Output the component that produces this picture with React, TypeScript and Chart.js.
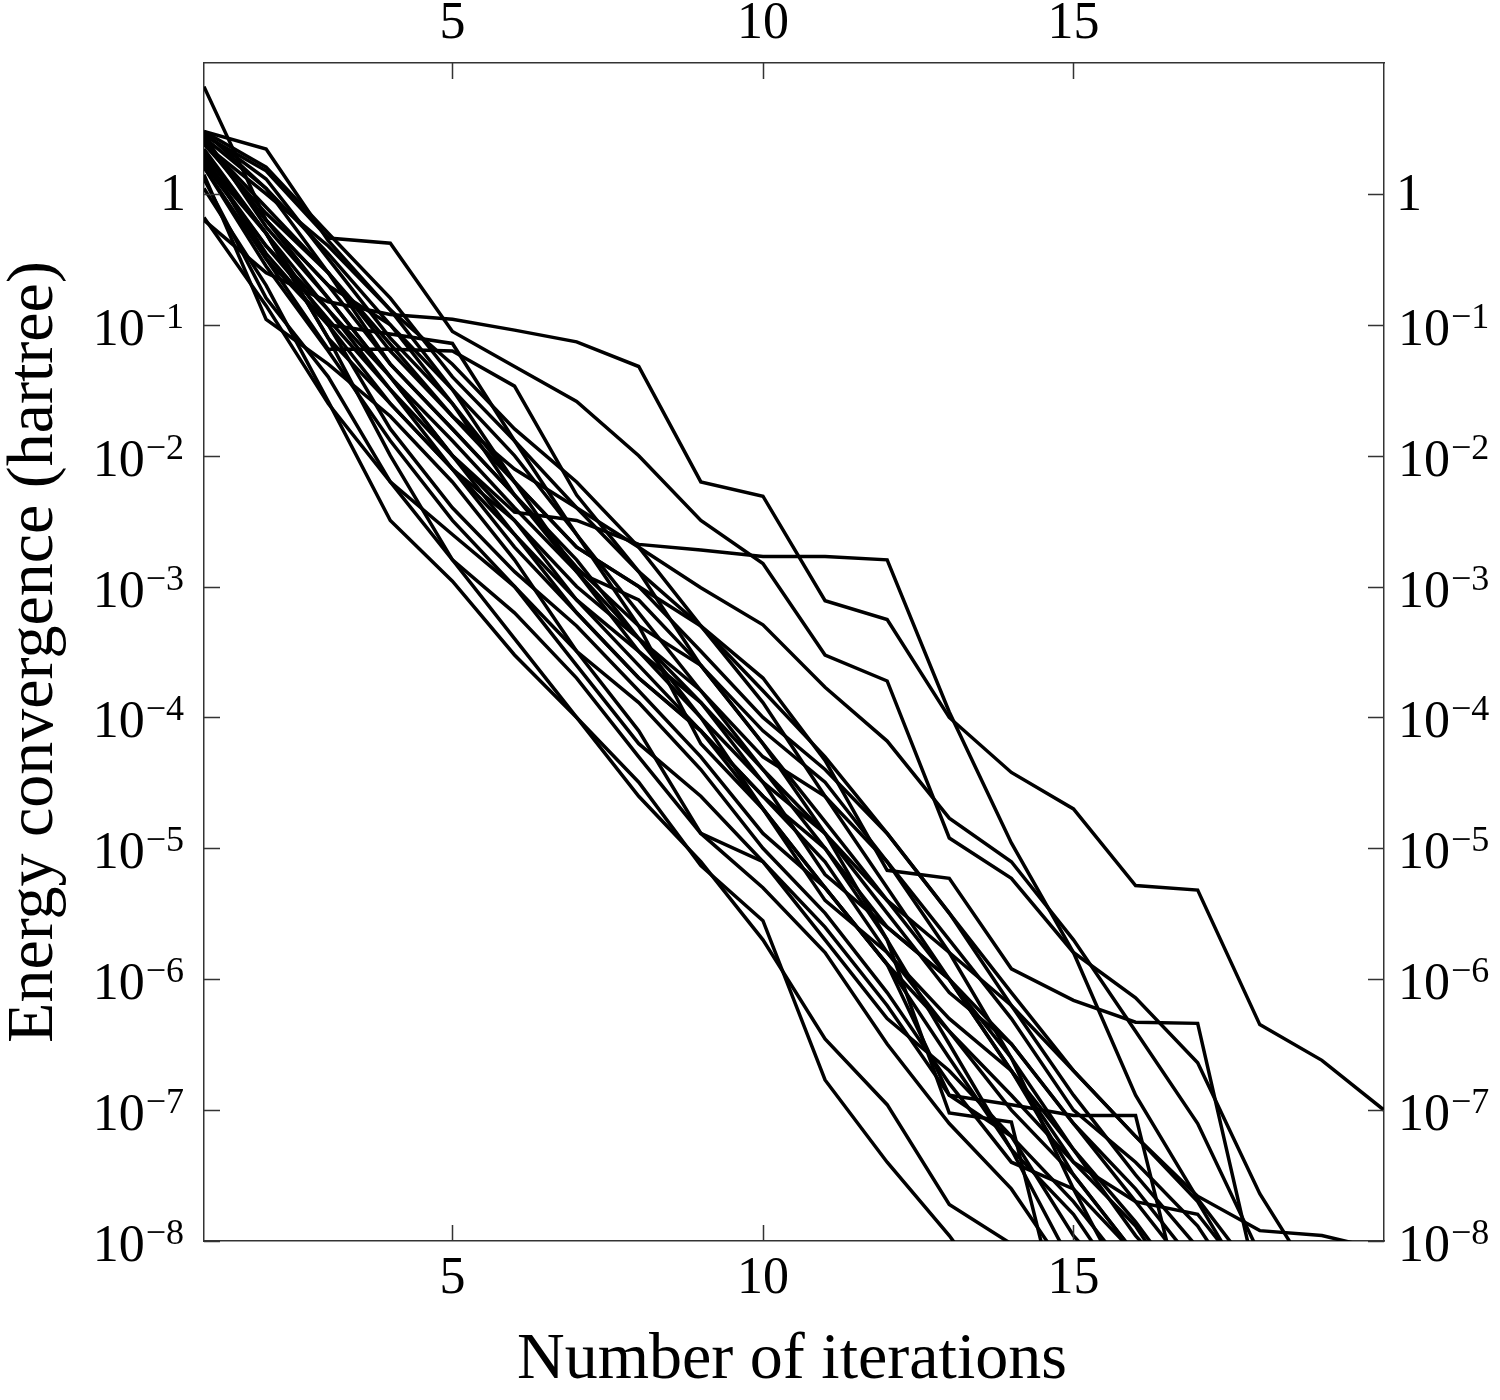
import { useEffect, useRef } from 'react'
import { Chart, registerables } from 'chart.js'

Chart.register(...registerables)

// iteration numbers (x) shared by all runs
const iterations = [1, 2, 3, 4, 5, 6, 7, 8, 9, 10, 11, 12, 13, 14, 15, 16, 17, 18, 19, 20]

// energy convergence (hartree) per run, one value per iteration
const run01 = [0.63, 0.25, 0.15, 0.12, 0.11, 9.1e-2, 7.4e-2, 4.8e-2, 6.3e-3, 4.9e-3, 7.8e-4, 5.6e-4, 1.0e-4, 3.8e-5, 2.0e-5, 5.2e-6, 4.8e-6, 4.5e-7, 2.4e-7, 1.0e-7]
const run02 = [2.0, 0.5, 0.13, 3.2e-2, 1.0e-2, 3.7e-3, 3.2e-3, 2.1e-3, 1.9e-3, 1.7e-3, 1.7e-3, 1.6e-3, 1.1e-4, 1.1e-5, 1.6e-6, 7.2e-7, 2.3e-7, 2.3e-8, 4.0e-9]
const run03 = [2.8, 1.5, 0.46, 0.42, 8.9e-2, 4.8e-2, 2.6e-2, 1.0e-2, 3.2e-3, 1.5e-3, 3.0e-4, 1.9e-4, 1.2e-5, 5.9e-6, 1.6e-6, 1.3e-7, 2.1e-8, 5.0e-9]
const run04 = [2.5, 0.79, 0.25, 6.3e-2, 2.0e-2, 7.9e-3, 4.0e-3, 2.0e-3, 9.8e-4, 5.1e-4, 1.7e-4, 6.6e-5, 1.7e-5, 7.9e-6, 2.0e-6, 4.0e-7, 7.9e-8, 7.9e-9]
const run05 = [3.0, 1.1, 0.35, 0.1, 2.5e-2, 6.3e-3, 2.0e-3, 1.0e-3, 5.0e-4, 2.0e-4, 4.7e-5, 6.8e-6, 5.9e-6, 1.2e-6, 6.9e-7, 4.7e-7, 4.6e-7, 3.9e-9]
const run06 = [1.8, 0.4, 0.13, 4.0e-2, 1.0e-2, 2.5e-3, 7.9e-4, 3.2e-4, 1.3e-4, 3.2e-5, 1.3e-5, 4.0e-6, 1.6e-6, 6.3e-7, 2.0e-7, 6.3e-8, 2.2e-8, 1.2e-8, 1.1e-8, 8.5e-9]
const run07 = [2.2, 0.5, 0.1, 8.5e-2, 7.2e-2, 1.3e-2, 2.5e-3, 5.0e-4, 6.3e-5, 2.0e-5, 5.0e-6, 1.3e-6, 1.3e-7, 1.1e-7, 9.1e-8, 9.1e-8, 1.1e-9]
const run08 = [1.1, 0.2, 2.6e-2, 3.2e-3, 1.1e-3, 3.0e-4, 1.0e-4, 3.2e-5, 7.4e-6, 2.8e-6, 1.7e-7, 4.0e-8, 1.1e-8, 2.5e-9]
const run09 = [2.1, 0.5, 7.9e-2, 1.0e-2, 1.6e-3, 4.0e-4, 1.0e-4, 2.5e-5, 7.9e-6, 2.0e-6, 3.5e-7, 1.1e-7, 1.9e-8, 9.5e-9, 2.5e-9]
const run10 = [6.6, 0.63, 0.16, 4.0e-2, 1.0e-2, 3.2e-3, 1.0e-3, 4.0e-4, 1.3e-4, 4.0e-5, 1.0e-5, 2.0e-6, 3.2e-7, 5.0e-8, 6.3e-9]
const run11 = [3.0, 2.2, 0.44, 0.13, 3.2e-2, 6.3e-3, 1.3e-3, 7.9e-4, 2.5e-4, 7.9e-5, 3.2e-5, 7.9e-6, 1.6e-6, 2.5e-7, 2.5e-8, 3.2e-9]
const run12 = [1.6, 0.32, 6.5e-2, 6.5e-2, 6.3e-2, 3.4e-2, 5.0e-3, 1.3e-3, 2.5e-4, 6.3e-5, 1.3e-5, 2.0e-6, 9.5e-8, 8.1e-8, 1.0e-9]
const run13 = [2.6, 0.63, 0.2, 5.0e-2, 1.6e-2, 5.0e-3, 1.3e-3, 3.2e-4, 1.0e-4, 3.2e-5, 6.3e-6, 2.5e-6, 1.0e-6, 2.0e-7, 4.0e-8, 1.3e-8, 2.5e-9]
const run14 = [2.0, 0.32, 0.1, 1.6e-2, 4.0e-3, 1.3e-3, 5.0e-4, 1.6e-4, 5.0e-5, 1.3e-5, 5.0e-6, 1.3e-6, 2.5e-7, 5.0e-8, 1.6e-8, 3.2e-9]
const run15 = [1.4, 0.11, 5.0e-2, 2.0e-2, 6.3e-3, 1.6e-3, 3.2e-4, 7.9e-5, 1.3e-5, 7.9e-6, 2.5e-6, 6.3e-7, 1.3e-7, 6.3e-8, 2.0e-8, 5.0e-9]
const run16 = [2.4, 1.0, 0.4, 0.13, 5.0e-2, 1.6e-2, 6.3e-3, 2.0e-3, 5.0e-4, 1.3e-4, 2.5e-5, 5.0e-6, 1.0e-6, 2.5e-7, 5.0e-8, 1.4e-8, 3.2e-9]
const run17 = [1.3, 0.16, 4.0e-2, 6.3e-3, 2.5e-3, 1.0e-3, 2.5e-4, 6.3e-5, 2.5e-5, 7.9e-6, 2.0e-6, 5.0e-7, 2.0e-7, 6.3e-8, 1.1e-8, 3.2e-9]
const run18 = [2.5, 0.63, 0.2, 0.1, 3.2e-2, 1.0e-2, 2.5e-3, 6.3e-4, 1.6e-4, 4.0e-5, 1.3e-5, 3.2e-6, 7.9e-7, 3.2e-7, 7.9e-8, 2.5e-8, 6.3e-9]
const run19 = [2.9, 1.3, 0.32, 7.9e-2, 2.5e-2, 5.0e-3, 1.6e-3, 4.0e-4, 1.6e-4, 5.0e-5, 2.5e-5, 7.9e-6, 2.0e-6, 5.0e-7, 1.0e-7, 4.0e-8, 1.3e-8, 2.5e-9]
const run20 = [1.9, 0.35, 0.1, 2.5e-2, 7.9e-3, 2.0e-3, 6.3e-4, 2.0e-4, 7.9e-5, 2.5e-5, 7.9e-6, 1.6e-6, 4.0e-7, 1.3e-7, 4.0e-8, 2.0e-8, 1.6e-8, 4.0e-9]
const run21 = [1.6, 0.28, 6.3e-2, 1.3e-2, 3.2e-3, 1.0e-3, 3.2e-4, 1.3e-4, 4.0e-5, 1.0e-5, 3.2e-6, 7.9e-7, 1.6e-7, 4.0e-8, 2.5e-8, 7.9e-9]
const run22 = [2.8, 0.56, 0.16, 4.0e-2, 1.3e-2, 4.0e-3, 1.3e-3, 4.0e-4, 1.0e-4, 2.0e-5, 4.0e-6, 1.6e-6, 5.0e-7, 2.0e-7, 5.0e-8, 1.1e-8, 3.2e-9]
const run23 = [1.8, 0.5, 7.9e-2, 2.5e-2, 7.9e-3, 3.2e-3, 7.9e-4, 2.5e-4, 7.9e-5, 2.5e-5, 1.0e-5, 2.5e-6, 1.0e-6, 2.0e-7, 3.2e-8, 7.9e-9]
const run24 = [2.7, 1.1, 0.25, 7.1e-2, 2.0e-2, 6.3e-3, 2.0e-3, 1.0e-3, 3.2e-4, 1.0e-4, 4.0e-5, 1.3e-5, 3.2e-6, 6.3e-7, 1.3e-7, 3.2e-8, 8.9e-9]
const run25 = [0.66, 0.14, 2.5e-2, 6.3e-3, 1.6e-3, 6.3e-4, 2.0e-4, 5.0e-5, 1.3e-5, 5.0e-6, 1.6e-6, 3.2e-7, 7.9e-8, 2.5e-8, 5.0e-9]
const run26 = [2.4, 0.71, 0.25, 5.0e-2, 1.6e-2, 5.0e-3, 1.4e-3, 5.0e-4, 2.5e-4, 6.3e-5, 1.6e-5, 4.0e-6, 1.0e-6, 3.2e-7, 7.9e-8, 2.0e-8, 5.0e-9]
const run27 = [1.7, 0.4, 0.11, 3.2e-2, 7.9e-3, 2.5e-3, 6.3e-4, 2.0e-4, 7.9e-5, 2.0e-5, 5.0e-6, 1.3e-6, 4.0e-7, 1.0e-7, 3.2e-8, 7.9e-9]
const run28 = [3.0, 1.6, 0.5, 0.16, 4.0e-2, 1.3e-2, 4.0e-3, 1.3e-3, 5.0e-4, 1.6e-4, 5.0e-5, 1.3e-5, 3.2e-6, 7.9e-7, 2.0e-7, 6.3e-8, 2.0e-8, 3.2e-9]

const runs = [
  run01, run02, run03, run04, run05, run06, run07, run08, run09, run10,
  run11, run12, run13, run14, run15, run16, run17, run18, run19, run20,
  run21, run22, run23, run24, run25, run26, run27, run28,
]

// axis ticks
const xTicks = [5, 10, 15]
const yExponents = [0, -1, -2, -3, -4, -5, -6, -7, -8]

const SERIF = '"Liberation Serif", "Times New Roman", serif'
const FRAME = '#333'

// inward ticks, "10^-n" labels and axis titles
const frameText = {
  id: 'frameText',
  afterDraw(chart: any) {
    const { ctx, chartArea: a, scales } = chart
    const xs = scales.x
    const ys = scales.y
    ctx.save()

    ctx.strokeStyle = FRAME
    ctx.lineWidth = 1.5
    ctx.beginPath()
    for (const e of yExponents) {
      const py = Math.round(ys.getPixelForValue(Math.pow(10, e))) + 0.5
      ctx.moveTo(a.left, py)
      ctx.lineTo(a.left + 16, py)
      ctx.moveTo(a.right, py)
      ctx.lineTo(a.right - 16, py)
    }
    for (const t of xTicks) {
      const px = Math.round(xs.getPixelForValue(t)) + 0.5
      ctx.moveTo(px, a.bottom)
      ctx.lineTo(px, a.bottom - 16)
      ctx.moveTo(px, a.top)
      ctx.lineTo(px, a.top + 16)
    }
    ctx.stroke()

    ctx.fillStyle = '#000'
    ctx.textBaseline = 'alphabetic'

    // x labels, top and bottom
    ctx.font = `52px ${SERIF}`
    ctx.textAlign = 'center'
    for (const t of xTicks) {
      const px = xs.getPixelForValue(t)
      ctx.fillText(String(t), px, a.bottom + 52)
      ctx.fillText(String(t), px, a.top - 25)
    }

    // y labels, left (right aligned) and right (left aligned)
    ctx.textAlign = 'left'
    for (const e of yExponents) {
      const py = ys.getPixelForValue(Math.pow(10, e))
      if (e === 0) {
        ctx.font = `52px ${SERIF}`
        const w = ctx.measureText('1').width
        ctx.fillText('1', 186 - w, py + 16)
        ctx.fillText('1', a.right + 12, py + 16)
        continue
      }
      const sup = '\u2212' + String(-e)
      ctx.font = `52px ${SERIF}`
      const wBase = ctx.measureText('10').width
      ctx.font = `36px ${SERIF}`
      const wSup = ctx.measureText(sup).width
      const gap = 1
      const drawAt = (x0: number) => {
        ctx.font = `52px ${SERIF}`
        ctx.fillText('10', x0, py + 20)
        ctx.font = `36px ${SERIF}`
        ctx.fillText(sup, x0 + wBase + gap, py + 3)
      }
      drawAt(184 - (wBase + gap + wSup))
      drawAt(a.right + 14)
    }

    // axis titles
    ctx.font = `66px ${SERIF}`
    ctx.textAlign = 'center'
    ctx.fillText('Number of iterations', (a.left + a.right) / 2 - 2, 1378)
    ctx.save()
    ctx.translate(52, (a.top + a.bottom) / 2)
    ctx.rotate(-Math.PI / 2)
    ctx.fillText('Energy convergence (hartree)', 0, 0)
    ctx.restore()

    ctx.restore()
  },
}

const hiddenAxis = {
  ticks: { display: false },
  grid: { display: false, drawTicks: false },
  border: { display: true, color: FRAME, width: 1.5 },
}

export default function App() {
  const ref = useRef<HTMLCanvasElement | null>(null)

  useEffect(() => {
    document.body.style.margin = '0'
    if (!ref.current) return
    const ctx = ref.current.getContext('2d')
    if (!ctx) return

    const chart = new Chart(ctx, {
      type: 'line',
      data: {
        datasets: runs.map((values) => ({
          data: values.map((v, i) => ({ x: iterations[i], y: v })),
          borderColor: '#000',
          borderWidth: 3.5,
          pointRadius: 0,
          fill: false,
          tension: 0,
          xAxisID: 'x',
          yAxisID: 'y',
        })),
      },
      options: {
        responsive: false,
        devicePixelRatio: 1,
        animation: false,
        layout: { padding: 0 },
        plugins: { legend: { display: false }, tooltip: { enabled: false } },
        scales: {
          x: {
            type: 'linear', position: 'bottom', min: 1, max: 20, ...hiddenAxis,
            afterFit: (s: any) => { s.height = 159 },
          },
          xTop: {
            type: 'linear', position: 'top', min: 1, max: 20, ...hiddenAxis,
            afterFit: (s: any) => { s.height = 63 },
          },
          y: {
            type: 'logarithmic', position: 'left', min: 1e-8, max: 10, ...hiddenAxis,
            afterFit: (s: any) => { s.width = 204 },
          },
          yRight: {
            type: 'logarithmic', position: 'right', min: 1e-8, max: 10, ...hiddenAxis,
            afterFit: (s: any) => { s.width = 116 },
          },
        },
      } as any,
      plugins: [frameText],
    })
    return () => chart.destroy()
  }, [])

  return <canvas ref={ref} width={1500} height={1400} style={{ display: 'block' }} />
}
